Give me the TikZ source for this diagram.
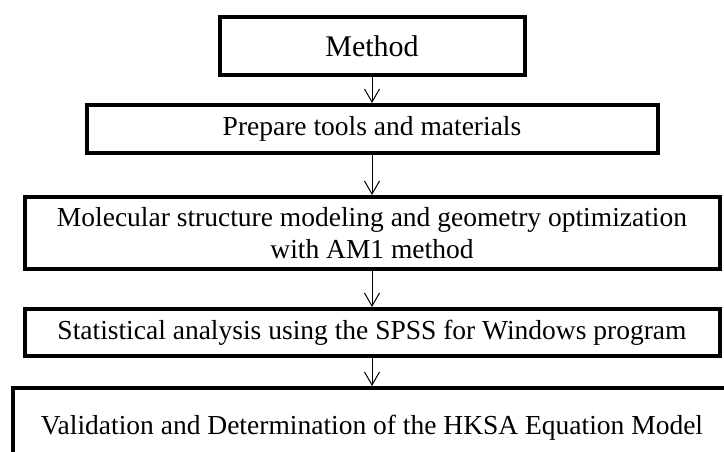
\documentclass[tikz,border=0pt]{standalone}
\usepackage{fontspec}
\setmainfont{Liberation Serif}
\usetikzlibrary{arrows.meta}
\tikzset{
  flowbox/.style={draw,line width=4pt,inner sep=0pt,align=center,
    font=\fontsize{27.5}{32}\selectfont},
  flowline/.style={line width=1pt,-{Straight Barb[length=13pt,width=15pt]}}
}
\begin{document}
\begin{tikzpicture}[x=1pt,y=-1pt]
\useasboundingbox (0,0) rectangle (724,452);
\clip (0,0) rectangle (724,452);
\node[flowbox,minimum width=305pt,minimum height=58pt,font=\fontsize{30}{34}\selectfont] (method) at (372,46) {Method};
\node[flowbox,minimum width=571pt,minimum height=48pt] (prep) at (372,129) {Prepare tools and materials};
\node[flowbox,minimum width=695pt,minimum height=72pt] (model) at (372,233) {Molecular structure modeling and geometry optimization\\with AM1 method};
\node[flowbox,minimum width=695pt,minimum height=47pt] (stats) at (372,332.5) {Statistical analysis using the SPSS for Windows program};
\node[flowbox,minimum width=718pt,minimum height=79pt] (valid) at (372,427.5) {Validation and Determination of the HKSA Equation Model};
\draw[flowline] (method.south) -- (prep.north);
\draw[flowline] (prep.south) -- (model.north);
\draw[flowline] (model.south) -- (stats.north);
\draw[flowline] (stats.south) -- (valid.north);
\end{tikzpicture}
\end{document}
